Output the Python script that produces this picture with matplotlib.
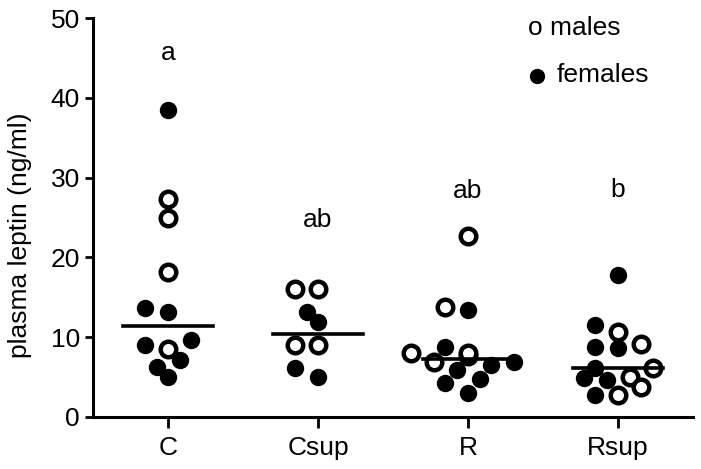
import numpy as np
import matplotlib
matplotlib.use("Agg")
import matplotlib.pyplot as plt

plt.rcParams['font.family'] = ['Liberation Sans', 'DejaVu Sans']

groups = ["C", "Csup", "R", "Rsup"]
# plasma leptin (ng/ml)
males = [
    [27.3, 24.9, 18.2, 8.5],
    [16.1, 16.1, 9.0, 9.0],
    [22.7, 13.8, 8.0, 7.6, 8.0, 6.9],
    [10.7, 9.2, 6.1, 5.05, 3.7, 2.75],
]
females = [
    [38.5, 13.7, 13.1, 9.65, 9.0, 7.2, 6.3, 5.05],
    [13.2, 11.9, 6.2, 5.05],
    [13.4, 8.8, 6.9, 6.5, 5.9, 4.8, 4.2, 3.0],
    [17.8, 11.5, 8.8, 8.6, 6.1, 4.85, 4.6, 2.75],
]
letters = ["a", "ab", "ab", "b"]
letter_y = [45.6, 24.7, 28.3, 28.4]

PX_X = 150.0   # pixels per x unit
PX_Y = 7.98    # pixels per ng/ml


def swarm(vals, step=11.5, dmin=15.0):
    # beeswarm in pixel space, half-column grid
    order = np.argsort(vals)
    offs = np.zeros(len(vals))
    placed = []
    cands = [0]
    for k in range(1, 6):
        cands += [-k, k]
    for i in order:
        y = vals[i] * PX_Y
        best = None
        for k in cands:
            x = k * step
            if all((x - px) ** 2 + (y - py) ** 2 >= dmin ** 2 for px, py in placed):
                best = x
                break
        if best is None:
            best = 0.0
        offs[i] = best / PX_X
        placed.append((best, y))
    return offs


fig = plt.figure(figsize=(7.01, 4.69), dpi=100)
ax = fig.add_axes([0.1327, 0.1109, 0.856, 0.8507])

for gi, g in enumerate(groups):
    vals = np.array(males[gi] + females[gi])
    is_male = np.array([True] * len(males[gi]) + [False] * len(females[gi]))
    xs = gi + swarm(vals)
    ax.plot(xs[~is_male], vals[~is_male], 'o', ms=11.5, color='black',
            mec='black', clip_on=False, zorder=3)
    ax.plot(xs[is_male], vals[is_male], 'o', ms=11.2, mfc='white',
            mec='black', mew=3.2, clip_on=False, zorder=3)
    med = np.median(vals)
    ax.plot([gi - 0.3, gi + 0.3], [med, med], color='black', lw=2.6, zorder=4)
    ax.text(gi, letter_y[gi], letters[gi], ha='center', va='center', fontsize=19)

ax.set_xlim(-0.5, 3.5)
ax.set_ylim(0, 50)
ax.set_xticks(range(len(groups)))
ax.set_xticklabels(groups)
ax.set_yticks([0, 10, 20, 30, 40, 50])
ax.set_ylabel("plasma leptin (ng/ml)", fontsize=19, va='center')
ax.yaxis.set_label_coords(-0.122, 0.456)
ax.tick_params(labelsize=19, width=2, length=6, direction='out')
ax.tick_params(axis='x', length=8, pad=6)
for s in ['top', 'right']:
    ax.spines[s].set_visible(False)
for s in ['left', 'bottom']:
    ax.spines[s].set_linewidth(2.2)

# legend drawn by hand like the original
ax.text(0.725, 0.975, "o males", transform=ax.transAxes, ha='left', va='center', fontsize=19)
ax.plot([0.74], [0.855], 'o', ms=10, color='black', transform=ax.transAxes, clip_on=False)
ax.text(0.773, 0.857, "females", transform=ax.transAxes, ha='left', va='center', fontsize=19)

fig.savefig("out.png", dpi=100)
